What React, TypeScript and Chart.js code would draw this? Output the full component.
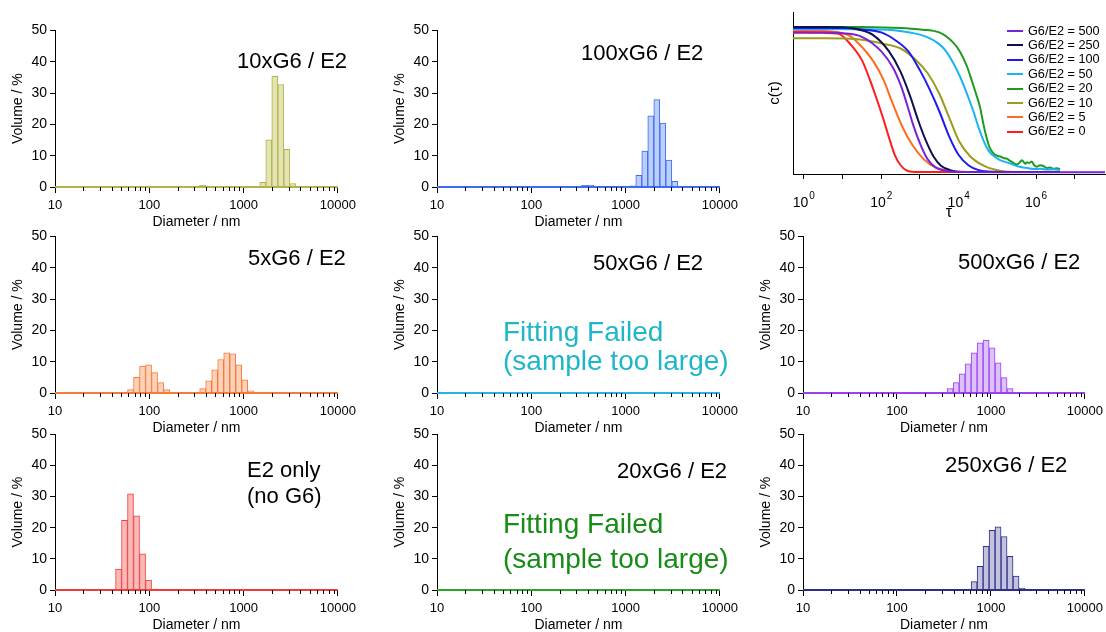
import React, { useEffect, useRef } from 'react';
import { Chart, registerables } from 'chart.js';

Chart.register(...registerables);

const FONT = '"Liberation Sans", Arial, Helvetica, sans-serif';
const AXIS = '#000000';

// ---------- size distributions (Volume %, diameter in nm) ----------
const TEN_X_DIAMETER = [317.8, 368.1, 1596.4, 1849.1, 2141.8, 2480.0, 2872.2, 3326.5];
const TEN_X_VOLUME = [0.3, 0.5, 1.5, 15.1, 35.3, 32.7, 12.0, 1.1];

const HUNDRED_X_DIAMETER = [317.8, 368.1, 426.2, 493.6, 1190.3, 1378.9, 1596.4, 1849.1, 2141.8, 2480.0, 2872.2, 3326.5];
const HUNDRED_X_VOLUME = [0.2, 0.5, 0.6, 0.2, 0.4, 3.7, 11.5, 22.7, 27.9, 20.4, 8.6, 1.8];

const FIVE_X_DIAMETER = [63.2, 73.2, 84.8, 98.2, 113.7, 131.8, 152.6, 368.1, 426.2, 493.6, 571.6, 662.0, 766.6, 887.8, 1027.7, 1190.3];
const FIVE_X_VOLUME = [1.1, 5.0, 8.6, 9.0, 6.5, 3.3, 1.1, 1.4, 3.9, 7.4, 10.7, 12.8, 12.5, 9.0, 4.2, 0.7];

const FIFTY_X_DIAMETER: number[] = [];
const FIFTY_X_VOLUME: number[] = [];

const FIVE_HUNDRED_X_DIAMETER = [317.8, 368.1, 426.2, 493.6, 571.6, 662.0, 766.6, 887.8, 1027.7, 1190.3, 1378.9, 1596.4];
const FIVE_HUNDRED_X_VOLUME = [0.3, 1.4, 3.3, 6.1, 9.3, 12.8, 16.0, 16.9, 14.4, 9.6, 4.9, 1.4];

const E2_ONLY_DIAMETER = [47.2, 54.6, 63.2, 73.2, 84.8, 98.2, 113.7];
const E2_ONLY_VOLUME = [6.7, 22.4, 30.9, 23.8, 11.6, 3.2, 0.3];

const TWENTY_X_DIAMETER: number[] = [];
const TWENTY_X_VOLUME: number[] = [];

const TWO_FIFTY_X_DIAMETER = [176.6, 204.6, 571.6, 662.0, 766.6, 887.8, 1027.7, 1190.3, 1378.9, 1596.4, 1849.1, 2141.8];
const TWO_FIFTY_X_VOLUME = [0.2, 0.2, 0.3, 2.7, 7.6, 14.0, 19.2, 20.3, 17.2, 10.8, 4.5, 0.6];

const DIAMETER_TICKS = [10, 100, 1000, 10000];
const DIAMETER_TICK_LABELS = ['10', '100', '1000', '10000'];
const VOLUME_MIN = 0;
const VOLUME_MAX = 50;
const VOLUME_STEP = 10;

// ---------- correlation functions: log10(tau) and c(tau) ----------
const LOGTAU_500 = [-0.28, 0.5, 1.0, 1.5, 2.0, 2.3, 2.5, 2.65, 2.82, 3.0, 3.2, 3.4, 3.7, 4.1, 5.0, 7.78];
const CORR_500 = [0.962, 0.96, 0.955, 0.93, 0.83, 0.72, 0.6, 0.48, 0.33, 0.2, 0.09, 0.035, 0.01, 0.003, 0.002, 0.002];

const LOGTAU_250 = [-0.28, 0.5, 1.0, 1.4, 1.8, 2.2, 2.5, 2.75, 2.95, 3.15, 3.35, 3.55, 3.8, 4.1, 5.0, 6.6];
const CORR_250 = [0.998, 0.998, 0.995, 0.98, 0.94, 0.83, 0.69, 0.52, 0.36, 0.22, 0.11, 0.045, 0.015, 0.004, 0.003, 0.003];

const LOGTAU_100 = [-0.28, 0.5, 1.0, 1.5, 2.0, 2.4, 2.7, 3.0, 3.25, 3.5, 3.75, 4.0, 4.25, 4.5, 4.9, 5.5, 6.6];
const CORR_100 = [0.99, 0.99, 0.99, 0.98, 0.96, 0.9, 0.83, 0.7, 0.57, 0.42, 0.25, 0.12, 0.05, 0.018, 0.005, 0.003, 0.003];

const LOGTAU_50 = [-0.28, 0.5, 1.5, 2.48, 3.17, 3.5, 3.69, 3.86, 4.03, 4.2, 4.38, 4.5, 4.64, 4.77, 4.9, 5.07, 5.24, 5.4, 5.5, 5.67, 5.8, 5.93, 6.11, 6.3, 6.45, 6.62];
const CORR_50 = [0.984, 0.984, 0.982, 0.97, 0.93, 0.88, 0.825, 0.75, 0.66, 0.55, 0.42, 0.32, 0.22, 0.15, 0.115, 0.085, 0.07, 0.055, 0.045, 0.035, 0.03, 0.024, 0.026, 0.02, 0.022, 0.018];

const LOGTAU_20 = [-0.28, 0.5, 1.5, 2.5, 3.0, 3.5, 3.86, 4.03, 4.21, 4.35, 4.46, 4.55, 4.64, 4.72, 4.8, 4.9, 5.0, 5.07, 5.15, 5.24, 5.33, 5.42, 5.5, 5.58, 5.63, 5.67, 5.72, 5.76, 5.82, 5.89, 5.95, 6.02, 6.1, 6.19, 6.28, 6.36, 6.45, 6.54, 6.62];
const CORR_20 = [0.998, 0.998, 0.997, 0.99, 0.98, 0.96, 0.89, 0.83, 0.73, 0.62, 0.53, 0.45, 0.33, 0.24, 0.17, 0.13, 0.115, 0.11, 0.1, 0.095, 0.08, 0.065, 0.055, 0.07, 0.085, 0.075, 0.06, 0.07, 0.065, 0.075, 0.05, 0.04, 0.05, 0.045, 0.03, 0.035, 0.025, 0.03, 0.022];

const LOGTAU_10 = [-0.28, 0.5, 1.5, 2.0, 2.5, 2.9, 3.2, 3.5, 3.75, 4.0, 4.3, 4.7, 5.1, 5.5, 6.6];
const CORR_10 = [0.92, 0.92, 0.91, 0.885, 0.85, 0.77, 0.68, 0.54, 0.38, 0.22, 0.11, 0.04, 0.011, 0.004, 0.003];

const LOGTAU_5 = [-0.28, 0.5, 1.0, 1.2, 1.5, 1.8, 2.05, 2.3, 2.55, 2.8, 3.1, 3.4, 3.8, 4.2, 5.0, 6.6];
const CORR_5 = [0.972, 0.97, 0.955, 0.935, 0.86, 0.76, 0.64, 0.47, 0.31, 0.19, 0.09, 0.035, 0.01, 0.004, 0.003, 0.003];

const LOGTAU_0 = [-0.28, 0.5, 0.9, 1.2, 1.5, 1.7, 1.9, 2.05, 2.2, 2.35, 2.5, 2.65, 2.85, 3.5, 5.0, 6.6];
const CORR_0 = [0.958, 0.957, 0.95, 0.88, 0.77, 0.64, 0.49, 0.37, 0.24, 0.12, 0.05, 0.015, 0.004, 0.003, 0.003, 0.003];

const RATIO_LABELS = ['G6/E2 = 500', 'G6/E2 = 250', 'G6/E2 = 100', 'G6/E2 = 50', 'G6/E2 = 20', 'G6/E2 = 10', 'G6/E2 = 5', 'G6/E2 = 0'];
const RATIO_COLORS = ['#7a22d6', '#101050', '#1c1cf0', '#1ab4f5', '#1e9b1e', '#9c9c1c', '#ff6b1f', '#ff1c1c'];
const RATIO_LOGTAU = [LOGTAU_500, LOGTAU_250, LOGTAU_100, LOGTAU_50, LOGTAU_20, LOGTAU_10, LOGTAU_5, LOGTAU_0];
const RATIO_CORR = [CORR_500, CORR_250, CORR_100, CORR_50, CORR_20, CORR_10, CORR_5, CORR_0];

const TAU_TICKS = [1, 10, 100, 1000, 1e4, 1e5, 1e6, 1e7];
const TAU_TICK_BASE = '10';
const TAU_TICK_EXPONENTS = ['0', '', '2', '', '4', '', '6', ''];
const TAU_MIN_EXP = -0.28;
const TAU_MAX_EXP = 7.78;

// ---------- layout ----------
const COL_LEFT = [55, 437, 803];
const COL_RIGHT = [339, 721, 1086];
const ROW_TOP = [29, 235, 433];
const ROW_BOTTOM = [187, 393, 590];
const Y_AXIS_W = 55;
const PAD_T = 10;
const PAD_R = 22;
const X_AXIS_H = 44;

const minorTickPlugin = {
  id: 'minorTicks',
  afterDraw(chart: any) {
    const x = chart.scales.x;
    const ctx = chart.ctx;
    const b = chart.chartArea.bottom;
    ctx.save();
    ctx.strokeStyle = AXIS;
    ctx.lineWidth = 1;
    ctx.beginPath();
    for (let k = 0; k < DIAMETER_TICKS.length - 1; k++) {
      for (let m = 2; m <= 9; m++) {
        const px = Math.round(x.getPixelForValue(DIAMETER_TICKS[k] * m)) + 0.5;
        ctx.moveTo(px, b);
        ctx.lineTo(px, b + 4);
      }
    }
    ctx.stroke();
    ctx.restore();
  },
};

const powerLabelPlugin = {
  id: 'powerLabels',
  afterDraw(chart: any) {
    const x = chart.scales.x;
    const ctx = chart.ctx;
    const b = chart.chartArea.bottom;
    ctx.save();
    ctx.fillStyle = '#000';
    ctx.textBaseline = 'alphabetic';
    ctx.textAlign = 'left';
    TAU_TICKS.forEach((v, i) => {
      const e = TAU_TICK_EXPONENTS[i];
      if (!e) return;
      const px = x.getPixelForValue(v);
      ctx.font = `14px ${FONT}`;
      const w1 = ctx.measureText(TAU_TICK_BASE).width;
      ctx.font = `10px ${FONT}`;
      const w2 = ctx.measureText(e).width;
      const start = px - (w1 + w2 + 1) / 2;
      ctx.font = `14px ${FONT}`;
      ctx.fillText(TAU_TICK_BASE, start, b + 32.5);
      ctx.font = `10px ${FONT}`;
      ctx.fillText(e, start + w1 + 1, b + 24.8);
    });
    ctx.restore();
  },
};

type HistProps = {
  col: number;
  row: number;
  diam: number[];
  vol: number[];
  fill: string;
  stroke: string;
  line: string;
};

function HistPanel(p: HistProps) {
  const ref = useRef<HTMLCanvasElement | null>(null);
  const l = COL_LEFT[p.col];
  const r = COL_RIGHT[p.col];
  const t = ROW_TOP[p.row];
  const b = ROW_BOTTOM[p.row];
  const w = r - l + Y_AXIS_W + PAD_R;
  const h = b - t + PAD_T + X_AXIS_H;

  useEffect(() => {
    const canvas = ref.current;
    if (!canvas) return;
    const chart = new Chart(canvas, {
      type: 'bar',
      data: {
        datasets: [
          {
            type: 'line',
            data: [
              { x: DIAMETER_TICKS[0], y: 0 },
              { x: DIAMETER_TICKS[DIAMETER_TICKS.length - 1], y: 0 },
            ],
            borderColor: p.line,
            borderWidth: 2,
            pointRadius: 0,
            clip: false,
            order: 0,
          } as any,
          {
            type: 'bar',
            data: p.diam.map((d, i) => ({ x: d, y: p.vol[i] })),
            backgroundColor: p.fill,
            borderColor: p.stroke,
            borderWidth: 1,
            barPercentage: 1,
            categoryPercentage: 1,
            order: 1,
          } as any,
        ],
      },
      options: {
        responsive: false,
        animation: false,
        events: [],
        layout: { padding: { left: 0, top: PAD_T, right: PAD_R, bottom: 0 } },
        plugins: { legend: { display: false }, tooltip: { enabled: false } },
        scales: {
          x: {
            type: 'logarithmic',
            min: DIAMETER_TICKS[0],
            max: DIAMETER_TICKS[DIAMETER_TICKS.length - 1],
            offset: false,
            afterBuildTicks: (s: any) => {
              s.ticks = DIAMETER_TICKS.map((v) => ({ value: v }));
            },
            afterFit: (s: any) => {
              s.height = X_AXIS_H;
            },
            grid: { display: true, offset: false, drawOnChartArea: false, drawTicks: true, tickLength: 6, color: AXIS },
            border: { display: true, color: AXIS, width: 1 },
            ticks: {
              autoSkip: false,
              maxRotation: 0,
              minRotation: 0,
              padding: 5,
              color: '#000',
              font: { family: FONT, size: 13 },
              callback: (_v: any, i: number) => DIAMETER_TICK_LABELS[i],
            },
            title: {
              display: true,
              text: 'Diameter / nm',
              color: '#000',
              font: { family: FONT, size: 14 },
              padding: { top: 0, bottom: 0.6 },
            },
          } as any,
          y: {
            type: 'linear',
            min: VOLUME_MIN,
            max: VOLUME_MAX,
            afterFit: (s: any) => {
              s.width = Y_AXIS_W;
            },
            grid: { display: true, drawOnChartArea: false, drawTicks: true, tickLength: 5, color: AXIS },
            border: { display: true, color: AXIS, width: 1 },
            ticks: {
              stepSize: VOLUME_STEP,
              padding: 3,
              color: '#000',
              font: { family: FONT, size: 14 },
            },
            title: {
              display: true,
              text: 'Volume / %',
              color: '#000',
              font: { family: FONT, size: 14 },
              padding: { top: 9.6, bottom: 0 },
            },
          } as any,
        },
      },
      plugins: [minorTickPlugin],
    });
    return () => chart.destroy();
  }, []);

  return (
    <canvas
      ref={ref}
      width={w}
      height={h}
      style={{ position: 'absolute', left: l - Y_AXIS_W, top: t - PAD_T, width: w, height: h }}
    />
  );
}

const CORR_LEFT = 753;
const CORR_TOP = 0;
const CORR_W = 353;
const CORR_H = 222;

function CorrelationPanel() {
  const ref = useRef<HTMLCanvasElement | null>(null);
  useEffect(() => {
    const canvas = ref.current;
    if (!canvas) return;
    const chart = new Chart(canvas, {
      type: 'line',
      data: {
        datasets: RATIO_LABELS.map((label, k) => ({
          label,
          data: RATIO_LOGTAU[k].map((lt, i) => ({ x: Math.pow(10, lt), y: RATIO_CORR[k][i] })),
          borderColor: RATIO_COLORS[k],
          backgroundColor: RATIO_COLORS[k],
          borderWidth: 2,
          pointRadius: 0,
          cubicInterpolationMode: 'monotone' as const,
          fill: false,
        })),
      },
      options: {
        responsive: false,
        animation: false,
        events: [],
        layout: { padding: { left: 0, top: 12, right: 1, bottom: 0 } },
        plugins: { legend: { display: false }, tooltip: { enabled: false } },
        scales: {
          x: {
            type: 'logarithmic',
            min: Math.pow(10, TAU_MIN_EXP),
            max: Math.pow(10, TAU_MAX_EXP),
            afterBuildTicks: (s: any) => {
              s.ticks = TAU_TICKS.map((v) => ({ value: v }));
            },
            afterFit: (s: any) => {
              s.height = 48;
            },
            grid: { display: true, drawOnChartArea: false, drawTicks: true, tickLength: 5, color: AXIS },
            border: { display: true, color: AXIS, width: 1 },
            ticks: {
              display: false,
              autoSkip: false,
              maxRotation: 0,
              minRotation: 0,
            },
            title: {
              display: true,
              text: '\u03C4',
              color: '#000',
              font: { family: FONT, size: 16 },
              padding: { top: 0, bottom: 0 },
            },
          } as any,
          y: {
            type: 'linear',
            min: -0.01,
            max: 1.1,
            afterFit: (s: any) => {
              s.width = 40;
            },
            grid: { display: false },
            border: { display: true, color: AXIS, width: 1 },
            ticks: { display: false },
            title: {
              display: true,
              text: 'c(\u03C4)',
              color: '#000',
              font: { family: FONT, size: 15 },
              padding: { top: 13, bottom: 0 },
            },
          } as any,
        },
      },
      plugins: [powerLabelPlugin],
    });
    return () => chart.destroy();
  }, []);
  return (
    <canvas
      ref={ref}
      width={CORR_W}
      height={CORR_H}
      style={{ position: 'absolute', left: CORR_LEFT, top: CORR_TOP, width: CORR_W, height: CORR_H }}
    />
  );
}

type Note = { text: string; x: number; cy: number; size: number; color: string };

const NOTES: Note[] = [
  { text: '10xG6 / E2', x: 237, cy: 60.5, size: 22, color: '#000' },
  { text: '100xG6 / E2', x: 581, cy: 52.5, size: 22, color: '#000' },
  { text: '5xG6 / E2', x: 248, cy: 257.7, size: 22, color: '#000' },
  { text: '50xG6 / E2', x: 593, cy: 263, size: 22, color: '#000' },
  { text: 'Fitting Failed', x: 503, cy: 331, size: 28, color: '#20b6c9' },
  { text: '(sample too large)', x: 503, cy: 360, size: 28, color: '#20b6c9' },
  { text: '500xG6 / E2', x: 958, cy: 261.7, size: 22, color: '#000' },
  { text: 'E2 only', x: 247, cy: 469.6, size: 22, color: '#000' },
  { text: '(no G6)', x: 247, cy: 496.4, size: 22, color: '#000' },
  { text: '20xG6 / E2', x: 617, cy: 471, size: 22, color: '#000' },
  { text: 'Fitting Failed', x: 503, cy: 523.3, size: 28, color: '#178c17' },
  { text: '(sample too large)', x: 503, cy: 558.7, size: 28, color: '#178c17' },
  { text: '250xG6 / E2', x: 945, cy: 464.7, size: 22, color: '#000' },
];

const LEGEND_X = 1007;
const LEGEND_Y0 = 31;
const LEGEND_DY = 14.4;
const LEGEND_FONT = 12.7;

export default function App() {
  return (
    <div
      style={{
        position: 'absolute',
        left: 0,
        top: 0,
        width: 1106,
        height: 632,
        overflow: 'hidden',
        background: '#ffffff',
        fontFamily: FONT,
      }}
    >
      <HistPanel col={0} row={0} diam={TEN_X_DIAMETER} vol={TEN_X_VOLUME} fill="#e3e3b4" stroke="#b3b34a" line="#b3b34a" />
      <HistPanel col={1} row={0} diam={HUNDRED_X_DIAMETER} vol={HUNDRED_X_VOLUME} fill="#bccffa" stroke="#3d6cf0" line="#3d6cf0" />
      <CorrelationPanel />
      <HistPanel col={0} row={1} diam={FIVE_X_DIAMETER} vol={FIVE_X_VOLUME} fill="#fdd2b8" stroke="#f47a3c" line="#f47a3c" />
      <HistPanel col={1} row={1} diam={FIFTY_X_DIAMETER} vol={FIFTY_X_VOLUME} fill="#bfe9f7" stroke="#27b3e3" line="#27b3e3" />
      <HistPanel col={2} row={1} diam={FIVE_HUNDRED_X_DIAMETER} vol={FIVE_HUNDRED_X_VOLUME} fill="#dcc2f9" stroke="#9b3ff0" line="#9b3ff0" />
      <HistPanel col={0} row={2} diam={E2_ONLY_DIAMETER} vol={E2_ONLY_VOLUME} fill="#f9b9b9" stroke="#ef3b3b" line="#ef3b3b" />
      <HistPanel col={1} row={2} diam={TWENTY_X_DIAMETER} vol={TWENTY_X_VOLUME} fill="#c0e6c0" stroke="#2aa52a" line="#2aa52a" />
      <HistPanel col={2} row={2} diam={TWO_FIFTY_X_DIAMETER} vol={TWO_FIFTY_X_VOLUME} fill="#c2c2de" stroke="#2f2f88" line="#2f2f88" />

      {NOTES.map((n, i) => (
        <div
          key={i}
          style={{
            position: 'absolute',
            left: n.x,
            top: n.cy - 0.5885 * n.size,
            fontSize: n.size,
            lineHeight: `${1.2 * n.size}px`,
            color: n.color,
            whiteSpace: 'nowrap',
            fontFamily: FONT,
          }}
        >
          {n.text}
        </div>
      ))}

      {RATIO_LABELS.map((label, k) => {
        const cy = LEGEND_Y0 + k * LEGEND_DY;
        return (
          <React.Fragment key={label}>
            <div
              style={{
                position: 'absolute',
                left: LEGEND_X,
                top: cy - 1,
                width: 16,
                height: 2,
                background: RATIO_COLORS[k],
              }}
            />
            <div
              style={{
                position: 'absolute',
                left: LEGEND_X + 21,
                top: cy - 0.5885 * LEGEND_FONT,
                fontSize: LEGEND_FONT,
                lineHeight: `${1.2 * LEGEND_FONT}px`,
                color: '#000',
                whiteSpace: 'nowrap',
                fontFamily: FONT,
              }}
            >
              {label}
            </div>
          </React.Fragment>
        );
      })}
    </div>
  );
}
